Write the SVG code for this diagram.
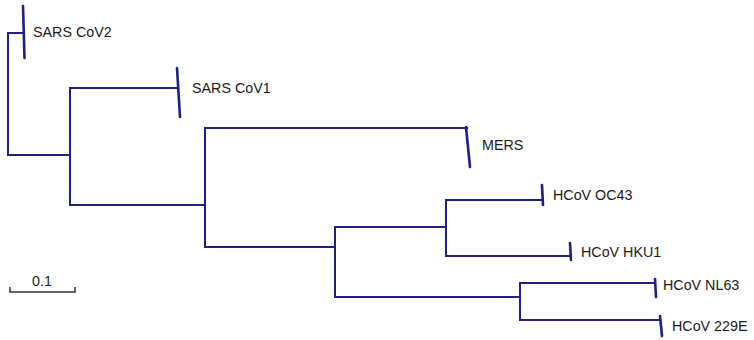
<svg xmlns="http://www.w3.org/2000/svg" width="754" height="340" viewBox="0 0 754 340">
<style>
.br{fill:none;stroke:#1f1f85;stroke-width:2;stroke-linecap:square}
.tk{fill:none;stroke:#1f1f85;stroke-width:2.6;stroke-linecap:round}
.lb{font-family:"Liberation Sans",Arial,sans-serif;font-size:14.3px;fill:#1a1a1a}
</style>
<rect width="754" height="340" fill="#ffffff"/>
<g id="connectors">
<path class="br" d="M8,33 V155 M8,33 H24 M8,155 H70"/>
<path class="br" d="M70,88 V205 M70,88 H178 M70,205 H205"/>
<path class="br" d="M205,128 V247 M205,128 H467 M205,247 H335"/>
<path class="br" d="M335,227 V297 M335,227 H446 M335,297 H520"/>
<path class="br" d="M446,200 V256 M446,200 H542 M446,256 H570"/>
<path class="br" d="M520,283 V320 M520,283 H655 M520,320 H660"/>
</g>
<g id="SARS_CoV2"><path class="tk" d="M23,6 L24.5,58"/><text class="lb" x="33" y="37">SARS CoV2</text></g>
<g id="SARS_CoV1"><path class="tk" d="M177,68 L180,117"/><text class="lb" x="192" y="93">SARS CoV1</text></g>
<g id="MERS"><path class="tk" d="M466,127 L470,167"/><text class="lb" x="482" y="150">MERS</text></g>
<g id="HCoV_OC43"><path class="tk" d="M542,185 L543,205"/><text class="lb" x="553" y="200">HCoV OC43</text></g>
<g id="HCoV_HKU1"><path class="tk" d="M570,243 L571,260"/><text class="lb" x="581" y="257">HCoV HKU1</text></g>
<g id="HCoV_NL63"><path class="tk" d="M655,279 L656,297"/><text class="lb" x="663" y="290">HCoV NL63</text></g>
<g id="HCoV_229E"><path class="tk" d="M660,316 L662,336"/><text class="lb" x="672" y="331">HCoV 229E</text></g>
<g id="scale"><path d="M10,287 V292 H75 V287" fill="none" stroke="#333333" stroke-width="1.5"/><text class="lb" x="32" y="286">0.1</text></g>
</svg>
